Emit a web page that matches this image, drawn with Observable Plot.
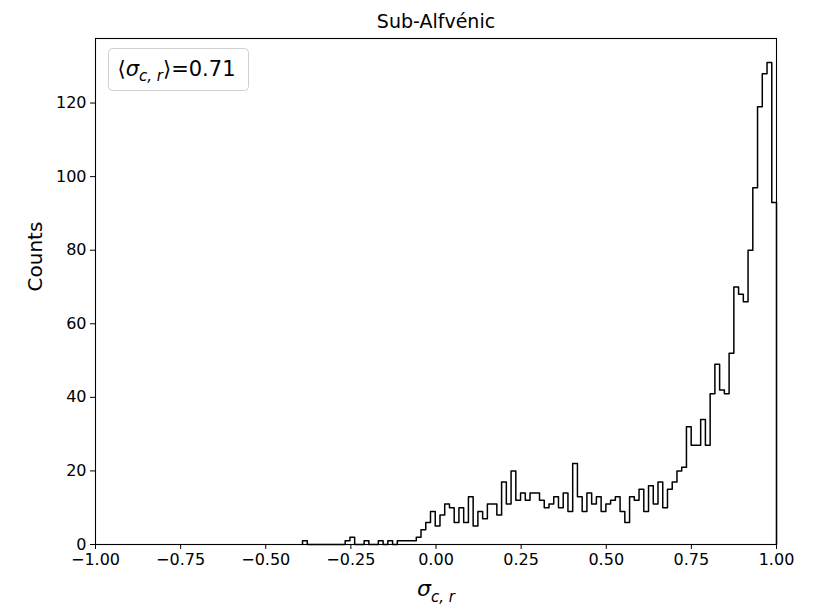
<!DOCTYPE html>
<html>
<head>
<meta charset="utf-8">
<script src="https://cdn.jsdelivr.net/npm/d3@7"></script>
<script src="https://cdn.jsdelivr.net/npm/@observablehq/plot@0.6"></script>
<style>
  html, body { margin: 0; padding: 0; background: white; }
</style>
</head>
<body>
<div id="chart"></div>
<script>
// Histogram counts (100 equal bins from binMin to binMax)
const counts = [
  1,0,0,0,0,0,0,0,0,1,
  2,0,0,1,0,0,1,0,1,0,
  1,1,1,1,2,4,6,9,5,8,
  11,10,6,10,6,13,5,9,7,11,
  11,8,17,11,20,12,14,12,14,14,
  12,10,11,13,10,14,9,22,13,9,
  14,11,13,9,11,12,13,9,6,13,
  12,15,9,16,11,17,10,15,17,20,
  21,32,27,27,34,27,41,49,42,41,
  52,70,68,66,80,97,119,128,131,93
];
const binMin = -0.392;
const binMax = 1.0;
const xTicks = [-1, -0.75, -0.5, -0.25, 0, 0.25, 0.5, 0.75, 1];
const yTicks = [0, 20, 40, 60, 80, 100, 120];
const titleText = "Sub-Alfvénic";
const yLabel = "Counts";
const xLabel = "σc,r";
const meanLabel = "⟨σc,r⟩=0.71";

const nBins = counts.length;
const w = (binMax - binMin) / nBins;
const steps = [{x: binMin, y: 0}];
counts.forEach((c, i) => steps.push({x: binMin + i * w, y: c}));
steps.push({x: binMax, y: 0});

const fmt = d => d.toFixed(2).replace("-", "\u2212");

const svg = Plot.plot({
  width: 822,
  height: 604,
  marginLeft: 95,
  marginRight: 46,
  marginTop: 38,
  marginBottom: 60,
  x: {domain: [-1, 1], label: null},
  y: {domain: [0, 137.55], label: null},
  style: {fontFamily: "DejaVu Sans", background: "white", color: "black", overflow: "visible"},
  marks: [
    Plot.line(steps, {x: "x", y: "y", curve: "step-after", stroke: "black", strokeWidth: 1.5}),
    Plot.frame({stroke: "black", strokeWidth: 1.1}),
    Plot.frame({insetLeft: 13, insetTop: 10, insetRight: 528, insetBottom: 454, rx: 4, ry: 4, stroke: "#d0d0d0", fill: "white", fillOpacity: 0.8}),
    Plot.text([meanLabel], {frameAnchor: "top-left", dx: 22, dy: 31, textAnchor: "start", lineAnchor: "middle", fontSize: 21, fill: "black"}),
    Plot.axisX({ticks: xTicks, tickFormat: fmt, tickSize: 5, tickPadding: 4, fontSize: 16, label: null, stroke: "black", fill: "black"}),
    Plot.axisY({ticks: yTicks, tickFormat: d => String(d), tickSize: 5, tickPadding: 4, fontSize: 16, label: null, stroke: "black", fill: "black"}),
    Plot.text([titleText], {frameAnchor: "top", dy: -17, lineAnchor: "middle", fontSize: 19, fill: "black"}),
    Plot.text([yLabel], {frameAnchor: "left", dx: -60, rotate: -90, lineAnchor: "middle", fontSize: 20, fill: "black"}),
    Plot.text([xLabel], {frameAnchor: "bottom", dy: 44, lineAnchor: "middle", fontSize: 22, fill: "black"})
  ]
});

// Render sigma subscripts as real text with tspans
function subscriptify(el, pre, post, size) {
  el.textContent = "";
  const ns = "http://www.w3.org/2000/svg";
  const add = (t, attrs) => {
    const s = document.createElementNS(ns, "tspan");
    s.textContent = t;
    for (const k in attrs) s.setAttribute(k, attrs[k]);
    el.appendChild(s);
  };
  const shift = Math.round(size * 0.25);
  if (pre) add(pre, {});
  add("σ", {"font-style": "italic"});
  add("c, r", {"font-style": "italic", "font-size": Math.round(size * 0.7), dy: shift});
  if (post) add(post, {dy: -shift});
}
d3.select(svg).selectAll("text").each(function() {
  if (this.textContent === meanLabel) subscriptify(this, "⟨", "⟩=0.71", 21);
  else if (this.textContent === xLabel) subscriptify(this, "", "", 22);
});

document.getElementById("chart").appendChild(svg);
</script>
</body>
</html>
